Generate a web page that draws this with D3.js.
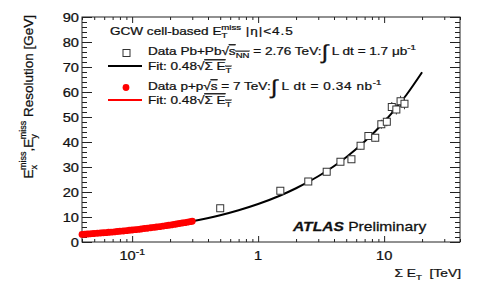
<!DOCTYPE html>
<html>
<head>
<meta charset="utf-8">
<script src="https://cdn.jsdelivr.net/npm/d3@7"></script>
<style>
  body { margin: 0; background: #fff; }
  svg text { font-family: "Liberation Sans", Arial, sans-serif; fill: #111; stroke: #111; stroke-width: 0.25px; white-space: pre; }
</style>
</head>
<body>
<svg id="chart" width="490" height="291"></svg>
<script>
// MET resolution vs sum ET, Pb+Pb and p+p data with sqrt fit

// Pb+Pb data (sum ET in TeV, resolution in GeV, stat error)
const pbX   = [0.5, 1.5, 2.5, 3.5, 4.5, 5.5, 6.5, 7.5, 8.5, 9.5, 10.5, 11.5, 12.5, 13.5, 14.5];
const pbY   = [13.5, 20.5, 24.2, 28.1, 32.1, 33.1, 38.5, 42.4, 41.7, 47.1, 48.1, 54.0, 53.0, 56.3, 55.3];
const pbErr = [0.8, 0.8, 1.0, 1.0, 1.2, 1.2, 1.5, 1.5, 1.5, 1.8, 1.8, 2.0, 2.0, 2.2, 2.2];

// p+p data (dense band at low sum ET)
const ppX = [0.040, 0.042, 0.044, 0.046, 0.048, 0.050, 0.053, 0.056, 0.059, 0.062,
             0.065, 0.068, 0.072, 0.076, 0.080, 0.085, 0.090, 0.095, 0.100, 0.106,
             0.112, 0.118, 0.125, 0.132, 0.140, 0.148, 0.156, 0.165, 0.175, 0.185,
             0.195, 0.205, 0.215, 0.225, 0.237, 0.250, 0.262, 0.275, 0.288, 0.300];
const ppY = [3.05, 3.10, 3.20, 3.25, 3.35, 3.40, 3.50, 3.60, 3.70, 3.75,
             3.90, 3.95, 4.05, 4.20, 4.30, 4.40, 4.55, 4.70, 4.80, 4.95,
             5.05, 5.20, 5.40, 5.50, 5.70, 5.85, 6.00, 6.15, 6.35, 6.55,
             6.70, 6.85, 7.05, 7.20, 7.40, 7.60, 7.75, 7.95, 8.15, 8.30];

// fit curves
const fitX   = [0.04, 0.06, 0.1, 0.15, 0.2, 0.3, 0.5, 0.7, 1, 1.5, 2, 3, 5, 7, 10, 15, 20];
const fitY   = [3.0, 3.7, 4.8, 5.9, 6.8, 8.3, 10.7, 12.7, 15.2, 18.6, 21.5, 26.3, 33.9, 40.2, 48.0, 58.8, 67.9];
const ppFitX = [0.04, 0.06, 0.1, 0.15, 0.2, 0.3];
const ppFitY = [3.0, 3.7, 4.8, 5.9, 6.8, 8.3];

// ticks
const xMajor = [0.1, 1, 10];
const xMinor = [0.04, 0.05, 0.06, 0.07, 0.08, 0.09, 0.2, 0.3, 0.4, 0.5, 0.6, 0.7, 0.8, 0.9,
                2, 3, 4, 5, 6, 7, 8, 9, 20, 30, 40];
const yMajor = [0, 10, 20, 30, 40, 50, 60, 70, 80, 90];
const yMinor = [2, 4, 6, 8, 12, 14, 16, 18, 22, 24, 26, 28, 32, 34, 36, 38, 42, 44, 46, 48,
                52, 54, 56, 58, 62, 64, 66, 68, 72, 74, 76, 78, 82, 84, 86, 88];
const xLabels = [{v: 0.1, t: "10", sup: "-1"}, {v: 1, t: "1"}, {v: 10, t: "10"}];

const margin = {top: 17, right: 30, bottom: 49, left: 82};
const width = 490, height = 291;
const SX = 1.2; // horizontal stretch of the original picture's text

const svg = d3.select("#chart");

const x = d3.scaleLog()
  .domain([0.04, 40])
  .range([margin.left, width - margin.right]);

const y = d3.scaleLinear()
  .domain([0, 90])
  .range([height - margin.bottom, margin.top]);

const x0 = margin.left, x1 = width - margin.right;
const y0 = height - margin.bottom, y1 = margin.top;

// text with tspans, stretched a bit horizontally like the source image
function rich(g, px, py, parts, opts) {
  const t = g.append("text")
    .attr("transform", `translate(${px},${py}) scale(${opts.sx ?? SX},1)`)
    .attr("text-anchor", opts.anchor || "start")
    .style("font-size", opts.size + "px");
  parts.forEach(p => {
    const s = t.append("tspan").text(p.t);
    if (p.dx) s.attr("dx", p.dx);
    if (p.dy) s.attr("dy", p.dy);
    if (p.fs) s.style("font-size", p.fs + "px");
    if (p.over) s.style("text-decoration", "overline");
    if (p.fw) s.style("font-weight", p.fw);
    if (p.it) s.style("font-style", "italic");
    if (p.ls) s.style("letter-spacing", p.ls + "px");
  });
  return t;
}

// axis ticks, all pointing inward
function ticks(axis, vals, size, tx, ty) {
  svg.append("g")
    .attr("transform", `translate(${tx},${ty})`)
    .call(axis.tickValues(vals).tickSize(size).tickSizeOuter(0).tickFormat(""))
    .call(g => g.select(".domain").remove())
    .call(g => g.selectAll(".tick line").attr("stroke", "#222"));
}
ticks(d3.axisTop(x), xMajor, 6, 0, y0);
ticks(d3.axisTop(x), xMinor, 3, 0, y0);
ticks(d3.axisBottom(x), xMajor, 6, 0, y1);
ticks(d3.axisBottom(x), xMinor, 3, 0, y1);
ticks(d3.axisRight(y), yMajor, 10, x0, 0);
ticks(d3.axisRight(y), yMinor, 5, x0, 0);
ticks(d3.axisLeft(y), yMajor, 10, x1, 0);
ticks(d3.axisLeft(y), yMinor, 5, x1, 0);

svg.append("rect")
  .attr("x", x0).attr("y", y1)
  .attr("width", x1 - x0).attr("height", y0 - y1)
  .attr("fill", "none").attr("stroke", "#222").attr("stroke-width", 1);

// tick labels
yMajor.forEach(v => rich(svg, x0 - 3, y(v) + 5, [{t: String(v)}], {anchor: "end", size: 12, sx: 1.22}));
xLabels.forEach(d => {
  const parts = [{t: d.t}];
  if (d.sup) parts.push({t: d.sup, fs: 8.5, dy: -5});
  rich(svg, x(d.v), 260, parts, {anchor: "middle", size: 12, sx: 1.22});
});

// axis titles
rich(svg, 461, 277, [{t: "Σ E"}, {t: "T", fs: 8, dy: 3}, {t: "  [TeV]", dy: -3}], {anchor: "end", size: 11.5});

svg.append("text")
  .attr("transform", "translate(33,15) rotate(-90)")
  .attr("text-anchor", "end")
  .style("font-size", "13.5px")
  .call(t => {
    [{t: "E"}, {t: "x", fs: 9, dy: 4}, {t: "miss", fs: 9, dx: -5, dy: -11},
     {t: ",E", dy: 7}, {t: "y", fs: 9, dy: 4}, {t: "miss", fs: 9, dx: -5, dy: -11},
     {t: " Resolution [GeV]", dy: 7}].forEach(p => {
      const s = t.append("tspan").text(p.t);
      if (p.dx) s.attr("dx", p.dx);
      if (p.dy) s.attr("dy", p.dy);
      if (p.fs) s.style("font-size", p.fs + "px");
    });
  });

// fit lines
const line = (xs, ys) => d3.line()
  .x(i => x(xs[i]))
  .y(i => y(ys[i]))
  .curve(d3.curveMonotoneX)(d3.range(xs.length));

svg.append("path")
  .attr("d", line(fitX, fitY))
  .attr("fill", "none").attr("stroke", "#000").attr("stroke-width", 2);

svg.append("path")
  .attr("d", line(ppFitX, ppFitY))
  .attr("fill", "none").attr("stroke", "#f00").attr("stroke-width", 2);

// p+p points
svg.append("g")
  .selectAll("circle")
  .data(ppX.map((v, i) => [v, ppY[i]]))
  .join("circle")
  .attr("cx", d => x(d[0]))
  .attr("cy", d => y(d[1]))
  .attr("r", 3.4)
  .attr("fill", "#f00");

// Pb+Pb points with error bars
const pb = pbX.map((v, i) => ({x: v, y: pbY[i], e: pbErr[i]}));
const pbG = svg.append("g");
pbG.selectAll("line.err")
  .data(pb)
  .join("line")
  .attr("class", "err")
  .attr("x1", d => x(d.x)).attr("x2", d => x(d.x))
  .attr("y1", d => y(d.y - d.e)).attr("y2", d => y(d.y + d.e))
  .attr("stroke", "#333").attr("stroke-width", 1);
pbG.selectAll("rect")
  .data(pb)
  .join("rect")
  .attr("x", d => x(d.x) - 3.5)
  .attr("y", d => y(d.y) - 3.5)
  .attr("width", 7).attr("height", 7)
  .attr("fill", "#fff").attr("stroke", "#333").attr("stroke-width", 1);

// legend
const leg = svg.append("g");
rich(leg, 110, 35, [{t: "GCW cell-based E"}, {t: "T", fs: 8, dy: 3}, {t: "miss", fs: 8, dx: -5, dy: -8},
  {t: " |η|<4.5", dy: 5, ls: 0.8}], {size: 11.3});

leg.append("rect")
  .attr("x", 123).attr("y", 49.5).attr("width", 7).attr("height", 7)
  .attr("fill", "#fff").attr("stroke", "#333");
rich(leg, 148, 55, [{t: "Data Pb+Pb"}, {t: "√"}, {t: "s", over: true}, {t: "NN", fs: 8, dy: 3, over: true},
  {t: " = 2.76 TeV:", dy: -3}, {t: "∫", fs: 20, dy: 4}, {t: " L dt = 1.7 μb", dy: -4},
  {t: "-1", fs: 8, dy: -5}], {size: 11.3});

leg.append("line")
  .attr("x1", 108).attr("x2", 142).attr("y1", 66).attr("y2", 66)
  .attr("stroke", "#000").attr("stroke-width", 2);
rich(leg, 148, 70, [{t: "Fit: 0.48"}, {t: "√"}, {t: "Σ E", over: true}, {t: "T", fs: 8, dy: 3, over: true}], {size: 11.3});

leg.append("circle")
  .attr("cx", 126).attr("cy", 87.5).attr("r", 3.4).attr("fill", "#f00");
rich(leg, 148, 90, [{t: "Data p+p"}, {t: "√"}, {t: "s", over: true}, {t: " = 7 TeV:"},
  {t: "∫", fs: 20, dy: 4}, {t: " L dt = 0.34 nb", dy: -4, ls: 0.5}, {t: "-1", fs: 8, dy: -5}], {size: 11.3});

leg.append("line")
  .attr("x1", 108).attr("x2", 142).attr("y1", 100).attr("y2", 100)
  .attr("stroke", "#f00").attr("stroke-width", 2);
rich(leg, 148, 104, [{t: "Fit: 0.48"}, {t: "√"}, {t: "Σ E", over: true}, {t: "T", fs: 8, dy: 3, over: true}], {size: 11.3});

// ATLAS label
rich(svg, 293, 231, [{t: "ATLAS", fw: "bold", it: true}, {t: " Preliminary"}], {size: 12.5, sx: 1.25});
</script>
</body>
</html>
